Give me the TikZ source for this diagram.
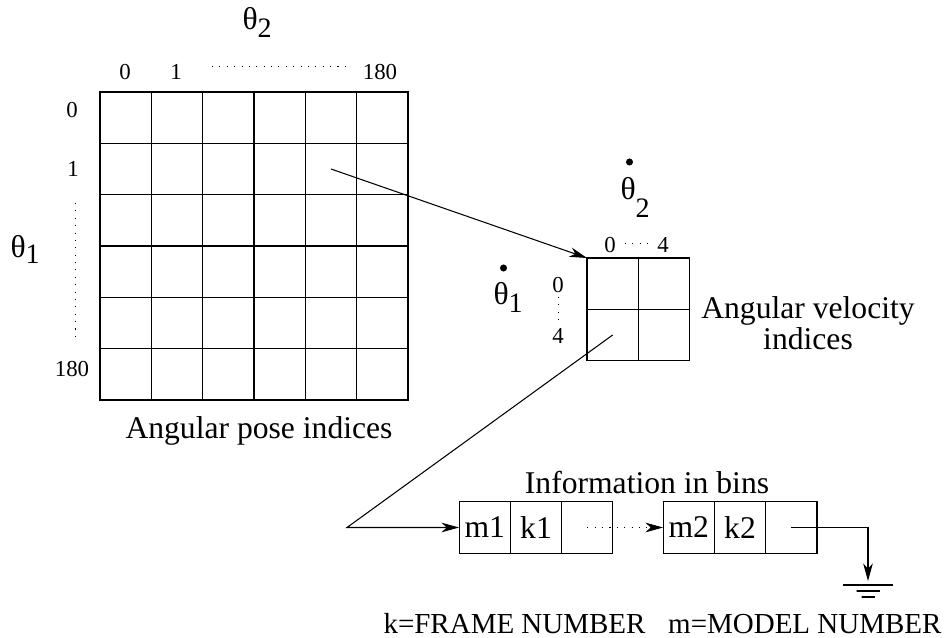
\documentclass[tikz,border=0pt]{standalone}
\usepackage{fontspec}
\setmainfont{Liberation Serif}
\usetikzlibrary{arrows.meta}

\newcommand{\thsub}[2]{θ\raisebox{#2}{\fontsize{16}{16}\selectfont #1}}

\begin{document}
\begin{tikzpicture}[x=0.02cm, y=-0.02cm, line width=0.6pt]
    \tikzstyle{cell} = [rectangle, draw, minimum size=1.0267cm, inner sep=0pt, outer sep=0pt]
    \tikzstyle{txt}  = [inner sep=0pt, font=\fontsize{18}{20}\selectfont]
    \tikzstyle{num}  = [inner sep=0pt, font=\fontsize{13}{15}\selectfont, anchor=base]
    \tikzstyle{note} = [inner sep=0pt, font=\fontsize{16.5}{18}\selectfont, anchor=base]
    \tikzstyle{line} = [draw, -{Stealth[length=10pt, width=5.5pt, inset=3pt]}]
    \tikzstyle{dots} = [draw, line width=0.5pt, dash pattern=on 0.6pt off 3.6pt]

    \useasboundingbox (0,0) rectangle (946,638);

    % Angular pose grid
    \foreach \r in {0,...,5} {
        \foreach \c in {0,...,5} {
            \node [cell] (p-\r-\c) at ({100+51.33*(\c+0.5)}, {92+51.33*(\r+0.5)}) {};
        }
    }
    \node [txt, anchor=base west] (th2) at (242,30) {\thsub{2}{-4pt}};
    \node [txt, anchor=base west] (th1) at (10,258) {\thsub{1}{-3pt}};
    \node [num] (c0) at (125,80) {0};
    \node [num] (c1) at (176,80) {1};
    \node [num] (cn) at (380,80) {180};
    \node [num] (r0) at (72,118) {0};
    \node [num] (r1) at (73,177) {1};
    \node [num] (rn) at (72,377) {180};
    \path [dots] (212,66) -- (348,66);
    \path [dots] (75,203) -- (75,340);
    \node [txt, anchor=base] (pose) at (259,438) {Angular pose indices};

    % Angular velocity grid
    \foreach \r in {0,1} {
        \foreach \c in {0,1} {
            \node [cell] (v-\r-\c) at ({587+51.33*(\c+0.5)}, {258+51.33*(\r+0.5)}) {};
        }
    }
    \node [txt, anchor=base west] (dth2) at (620,200) {\thsub{2}{-10pt}};
    \node [txt, anchor=base west] (dth1) at (493,305) {\thsub{1}{-4.5pt}};
    \fill ([shift={(9.5,-38)}]dth2.base west) circle [radius=2pt];
    \fill ([shift={(10.5,-37)}]dth1.base west) circle [radius=2pt];
    \node [num] (vc0) at (610,253) {0};
    \node [num] (vc4) at (663,253) {4};
    \node [num] (vr0) at (558,293) {0};
    \node [num] (vr4) at (558,343) {4};
    \path [dots] (625,243) -- (652,243);
    \path [dots] (558,297) -- (558,322);
    \node [txt, anchor=base] (velA) at (808,318) {Angular velocity};
    \node [txt, anchor=base] (velB) at ([yshift=-0.64cm]velA.base) {indices};

    % Bins
    \node [txt, anchor=base] (info) at (647,493) {Information in bins};
    \node [cell, font=\fontsize{18}{20}\selectfont] (b1-1) at (484.7,527.5) {m1};
    \node [cell, font=\fontsize{18}{20}\selectfont] (b1-2) at (536,527.5) {k1};
    \node [cell] (b1-3) at (587.3,527.5) {};
    \node [cell, font=\fontsize{18}{20}\selectfont] (b2-1) at (688.7,527.5) {m2};
    \node [cell, font=\fontsize{18}{20}\selectfont] (b2-2) at (740,527.5) {k2};
    \node [cell] (b2-3) at (791.3,527.5) {};
    \coordinate (bend) at (347,527.5);
    \coordinate (gnd) at (868,581);
    \draw (868,585) -- +(-25,0) -- +(25,0);
    \draw (868,591) -- +(-11.5,0) -- +(11.5,0);
    \draw (868,597) -- +(-6.5,0) -- +(6.5,0);
    \node [note, anchor=base west] (kkey) at (383,633) {k=FRAME NUMBER};
    \node [note, anchor=base east] (mkey) at (942,633) {m=MODEL NUMBER};

    % Connectors
    \path [line] (p-1-4.center) -- (v-0-0.north west);
    \path [line] (v-1-0.center) -- (bend) -- (b1-1.west);
    \path [line, dots] (b1-3.center) -- (b2-1.west);
    \path [line] (b2-3.center) -| (gnd);
\end{tikzpicture}
\end{document}
